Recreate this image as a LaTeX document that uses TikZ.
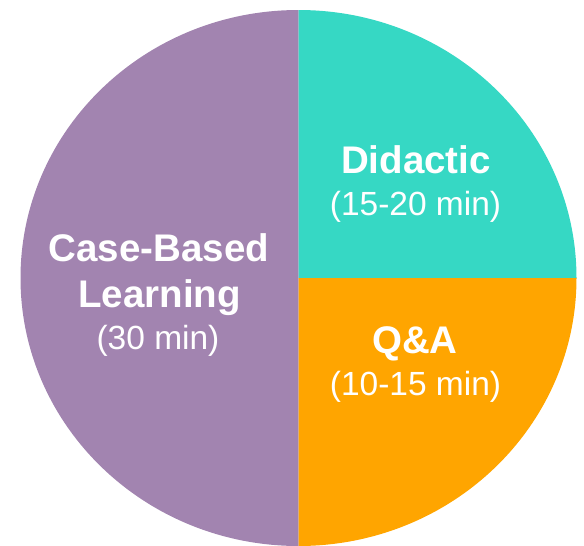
\documentclass[tikz,border=0pt]{standalone}
\usepackage{fontspec}
\setmainfont{Liberation Sans}
\usetikzlibrary{positioning}

\definecolor{casepurple}{RGB}{162,132,176}
\definecolor{didacticteal}{RGB}{54,216,196}
\definecolor{qaorange}{RGB}{255,165,0}

\begin{document}
\begin{tikzpicture}[x=1pt,y=1pt,
    slicetitle/.style={text=white, font=\fontsize{38.5}{44}\selectfont\bfseries, anchor=base, inner sep=0pt},
    slicetime/.style={text=white, font=\fontsize{33.5}{38}\selectfont, anchor=base, inner sep=0pt}]
    \useasboundingbox (0,0) rectangle (584,-546);

    % Slices
    \fill[casepurple] (298.5,-10) arc[start angle=90, end angle=270, x radius=278pt, y radius=268pt] -- cycle;
    \fill[didacticteal] (298.5,-278) -- (298.5,-10) arc[start angle=90, end angle=0, x radius=278pt, y radius=268pt] -- cycle;
    \fill[qaorange] (298.5,-278) -- (576.5,-278) arc[start angle=0, end angle=-90, x radius=278pt, y radius=268pt] -- cycle;

    % Labels
    \node[slicetitle] (didactic) at (416,-173) {Didactic};
    \node[slicetime] (didactictime) at (415.5,-215) {(15-20 min)};

    \node[slicetitle] (qa) at (415,-353) {Q\&A};
    \node[slicetime] (qatime) at (415.5,-395) {(10-15 min)};

    \node[slicetitle] (casebased) at (159,-261) {Case-Based};
    \node[slicetitle] (learning) at (159.5,-307) {Learning};
    \node[slicetime] (casetime) at (158,-349) {(30 min)};
\end{tikzpicture}
\end{document}
